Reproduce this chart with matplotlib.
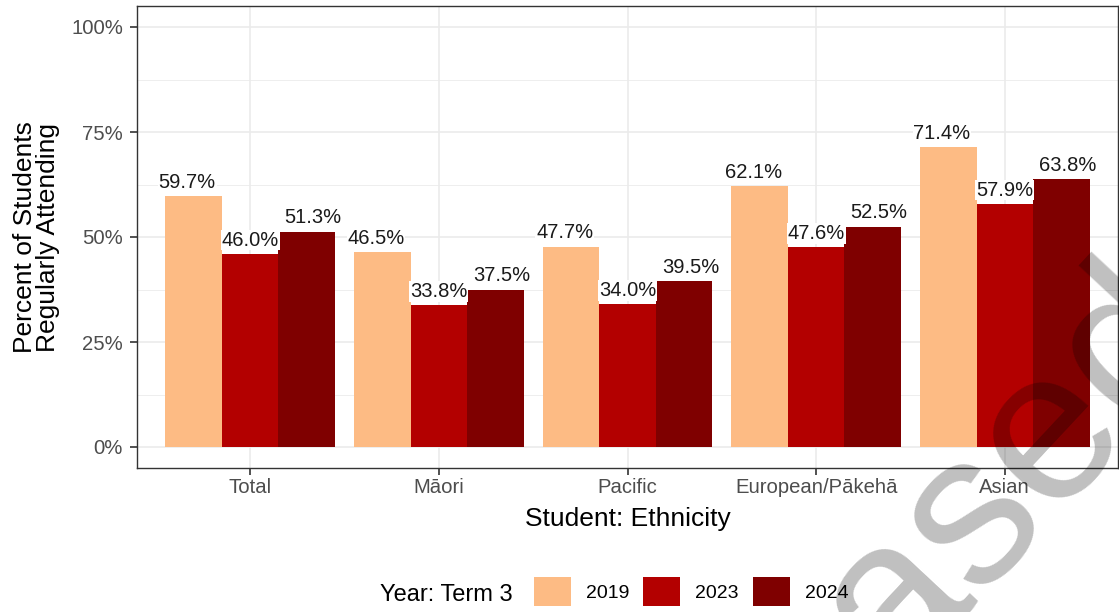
#!/usr/bin/env python3
"""
Regular attendance by ethnicity, Term 3 of 2019, 2023 and 2024.
Saves the chart as out.png.
"""

import numpy as np
import matplotlib
matplotlib.use('Agg')
import matplotlib.pyplot as plt
from matplotlib.patches import Patch
from matplotlib.ticker import FixedLocator, PercentFormatter

# Data
categories = ['Total', 'Māori', 'Pacific', 'European/Pākehā', 'Asian']
years = ['2019', '2023', '2024']
values_2019 = [59.7, 46.5, 47.7, 62.1, 71.4]
values_2023 = [46.0, 33.8, 34.0, 47.6, 57.9]
values_2024 = [51.3, 37.5, 39.5, 52.5, 63.8]
y_ticks = [0, 25, 50, 75, 100]

series = [values_2019, values_2023, values_2024]
colors = ['#FDBB84', '#B30000', '#7F0000']

plt.rcParams['font.family'] = ['Liberation Sans', 'DejaVu Sans']

fig = plt.figure(figsize=(11.19, 6.12), dpi=100, facecolor='white')
ax = fig.add_axes([137 / 1119, 1 - 468 / 612, 981 / 1119, 462 / 612])

x = np.arange(1, len(categories) + 1)
width = 0.3          # Balkenbreite
label_shift = 1 / 3  # Beschriftungen etwas breiter gestreut als die Balken

# Gitter wie ggplot theme_bw
ax.set_axisbelow(True)
ax.yaxis.set_minor_locator(FixedLocator([12.5, 37.5, 62.5, 87.5]))
ax.grid(which='major', color='#EBEBEB', linewidth=1.2)
ax.grid(which='minor', axis='y', color='#EBEBEB', linewidth=0.6)

for i, (vals, col) in enumerate(zip(series, colors)):
    pos = x + (i - 1) * width
    ax.bar(pos, vals, width=width, color=col, linewidth=0, zorder=2)
    for px, v in zip(x + (i - 1) * label_shift, vals):
        ax.annotate(f'{v:.1f}%', (px, v), xytext=(0, 3), textcoords='offset points',
                    ha='center', va='bottom', fontsize=14.5, color='#1A1A1A', zorder=3,
                    bbox=dict(facecolor='white', edgecolor='none', pad=0.6))

ax.set_xlim(0.4, 5.6)
ax.set_ylim(-5, 105)
ax.set_xticks(x)
ax.set_xticklabels(categories)
ax.set_yticks(y_ticks)
ax.yaxis.set_major_formatter(PercentFormatter(decimals=0))

for s in ax.spines.values():
    s.set_color('#333333')
    s.set_linewidth(1.0)

ax.tick_params(axis='both', which='major', length=5, width=1.2, color='#333333',
               labelsize=14.6, labelcolor='#4D4D4D')
ax.tick_params(axis='x', pad=2.5)
ax.tick_params(axis='y', pad=5)
ax.tick_params(which='minor', length=0)

ax.set_xlabel('Student: Ethnicity', fontsize=19, color='black', labelpad=7)
ax.set_ylabel('Percent of Students\nRegularly Attending', fontsize=19, color='black',
              linespacing=0.95)
ax.yaxis.set_label_coords(-0.0785, 0.5)

# Legende unten
handles = [Patch(facecolor=c, edgecolor='none') for c in colors]
fig.legend(handles, years, loc='center left', bbox_to_anchor=(534 / 1119, 1 - 591.5 / 612),
           ncol=3, frameon=False, fontsize=14, handlelength=1.9, handleheight=1.9,
           handletextpad=0.75, columnspacing=0.75, borderpad=0, borderaxespad=0)
fig.text(380 / 1119, 1 - 601 / 612, 'Year: Term 3', fontsize=17, ha='left', va='baseline')

# Wasserzeichen
fig.text(1.082, 0.453, 'Unreleased', fontsize=155, color='black',
         alpha=0.25, rotation=47, rotation_mode='anchor', ha='right', va='baseline',
         zorder=10)

fig.savefig('out.png', dpi=100, facecolor='white')
